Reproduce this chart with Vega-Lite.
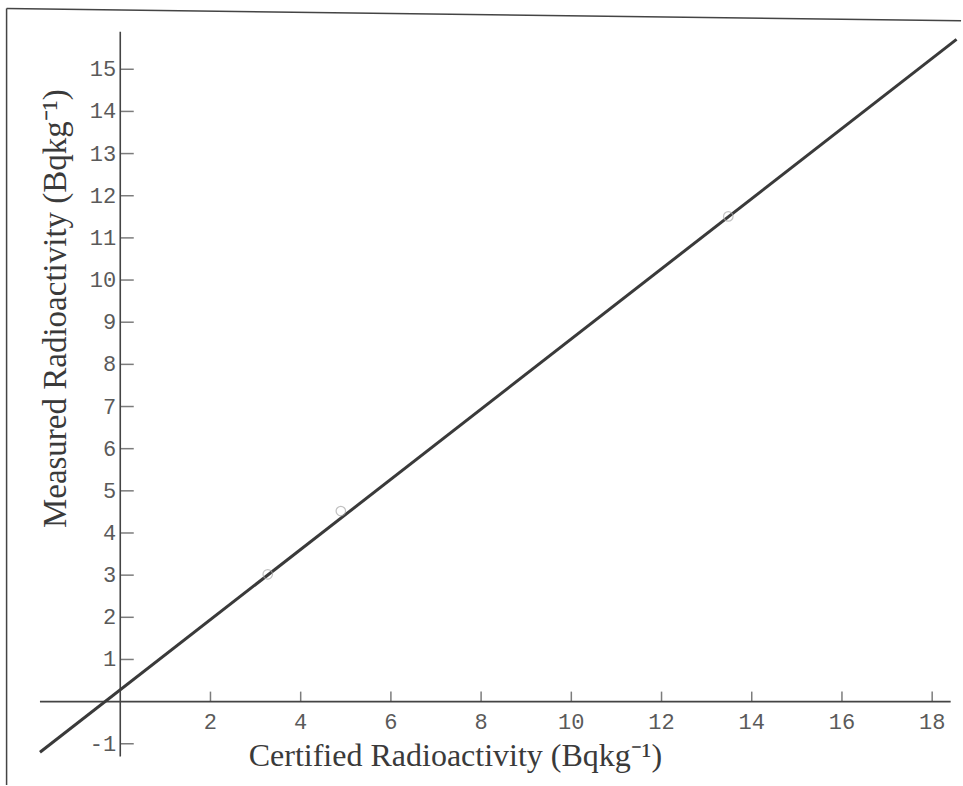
{
  "$schema": "https://vega.github.io/schema/vega-lite/v6.json",
  "width": 963,
  "height": 786,
  "autosize": {"type": "fit", "contains": "padding"},
  "padding": 0,
  "background": "white",
  "config": {"view": {"stroke": null}},
  "datasets": {
    "frame": [
      {"x": -2.52, "y": 16.44, "x2": -2.52, "y2": -1.98},
      {"x": -2.52, "y": 16.44, "x2": 18.64, "y2": 16.15}
    ],
    "axes": [
      {"x": -1.78, "y": 0, "x2": 18.41, "y2": 0},
      {"x": 0, "y": -1.30, "x2": 0, "y2": 15.89}
    ],
    "xticks": [
      {"x": 2, "y": 0}, {"x": 4, "y": 0}, {"x": 6, "y": 0}, {"x": 8, "y": 0},
      {"x": 10, "y": 0}, {"x": 12, "y": 0}, {"x": 14, "y": 0}, {"x": 16, "y": 0}, {"x": 18, "y": 0}
    ],
    "yticks": [
      {"x": 0, "y": -1}, {"x": 0, "y": 1}, {"x": 0, "y": 2}, {"x": 0, "y": 3}, {"x": 0, "y": 4},
      {"x": 0, "y": 5}, {"x": 0, "y": 6}, {"x": 0, "y": 7}, {"x": 0, "y": 8}, {"x": 0, "y": 9},
      {"x": 0, "y": 10}, {"x": 0, "y": 11}, {"x": 0, "y": 12}, {"x": 0, "y": 13}, {"x": 0, "y": 14},
      {"x": 0, "y": 15}
    ],
    "fit": [
      {"x": -1.78, "y": -1.20},
      {"x": 18.54, "y": 15.71}
    ],
    "points": [
      {"x": 3.27, "y": 3.02},
      {"x": 4.89, "y": 4.52},
      {"x": 13.48, "y": 11.51}
    ],
    "xtitle": [{"x": 7.43, "y": -1.53, "label": "Certified Radioactivity (Bqkg⁻¹)"}],
    "ytitle": [{"x": -1.206, "y": 9.32, "label": "Measured Radioactivity (Bqkg⁻¹)"}]
  },
  "encoding": {
    "x": {"field": "x", "type": "quantitative", "scale": {"domain": [-2.666, 18.639], "nice": false, "zero": false}, "axis": null},
    "y": {"field": "y", "type": "quantitative", "scale": {"domain": [-1.978, 16.643], "nice": false, "zero": false}, "axis": null}
  },
  "layer": [
    {
      "data": {"name": "frame"},
      "mark": {"type": "rule", "color": "#444444", "strokeWidth": 1.5},
      "encoding": {"x2": {"field": "x2"}, "y2": {"field": "y2"}}
    },
    {
      "data": {"name": "axes"},
      "mark": {"type": "rule", "color": "#444444", "strokeWidth": 1.6},
      "encoding": {"x2": {"field": "x2"}, "y2": {"field": "y2"}}
    },
    {
      "data": {"name": "xticks"},
      "mark": {"type": "tick", "orient": "vertical", "color": "#444444", "size": 10, "thickness": 1.5, "yOffset": -5},
      "encoding": {}
    },
    {
      "data": {"name": "yticks"},
      "mark": {"type": "tick", "orient": "horizontal", "color": "#444444", "size": 13, "thickness": 1.5, "xOffset": 7},
      "encoding": {}
    },
    {
      "data": {"name": "xticks"},
      "mark": {"type": "text", "font": "Liberation Mono", "fontSize": 22, "color": "#5a5a5a", "align": "center", "baseline": "middle", "dy": 20},
      "encoding": {"text": {"field": "x", "type": "nominal"}}
    },
    {
      "data": {"name": "yticks"},
      "mark": {"type": "text", "font": "Liberation Mono", "fontSize": 22, "color": "#5a5a5a", "align": "right", "baseline": "middle", "dx": -4},
      "encoding": {"text": {"field": "y", "type": "nominal"}}
    },
    {
      "data": {"name": "fit"},
      "mark": {"type": "line", "color": "#3a3a3a", "strokeWidth": 3},
      "encoding": {}
    },
    {
      "data": {"name": "points"},
      "mark": {"type": "point", "shape": "circle", "filled": false, "color": "#a8a8a8", "size": 90, "strokeWidth": 1.2},
      "encoding": {}
    },
    {
      "data": {"name": "xtitle"},
      "mark": {"type": "text", "font": "Liberation Serif", "fontSize": 32, "color": "#3a3a3a", "align": "center", "baseline": "alphabetic"},
      "encoding": {"text": {"field": "label", "type": "nominal"}}
    },
    {
      "data": {"name": "ytitle"},
      "mark": {"type": "text", "font": "Liberation Serif", "fontSize": 33, "color": "#3a3a3a", "align": "center", "baseline": "alphabetic", "angle": 270},
      "encoding": {"text": {"field": "label", "type": "nominal"}}
    }
  ]
}
